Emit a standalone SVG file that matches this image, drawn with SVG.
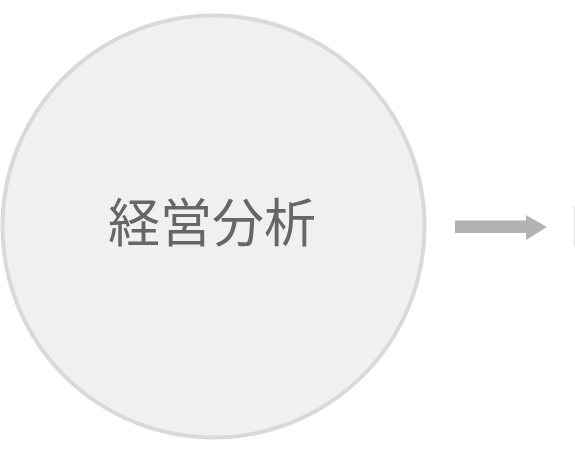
<svg xmlns="http://www.w3.org/2000/svg" width="575" height="453" viewBox="0 0 575 453">
<style>
.node{fill:#f0f0f0;stroke:#d9d9d9;stroke-width:4}
.label{font-family:"Noto Sans CJK JP","Noto Sans",sans-serif;font-size:52px;fill:#666666;text-anchor:middle}
.conn{fill:#b3b3b3}
</style>
<rect width="575" height="453" fill="#ffffff"/>
<g id="node-keiei">
<circle class="node" cx="213.5" cy="226.5" r="211"/>
<text class="label" x="212" y="242">経営分析</text>
</g>
<g id="connectors">
<path class="conn" d="M455 220.5 H526 V215 L547 227 L526 240 V233 H455 Z"/>
</g>
<g id="node-next">
<line x1="574.5" y1="207" x2="574.5" y2="247" stroke="#e3e3e3" stroke-width="1.5"/>
</g>
</svg>
